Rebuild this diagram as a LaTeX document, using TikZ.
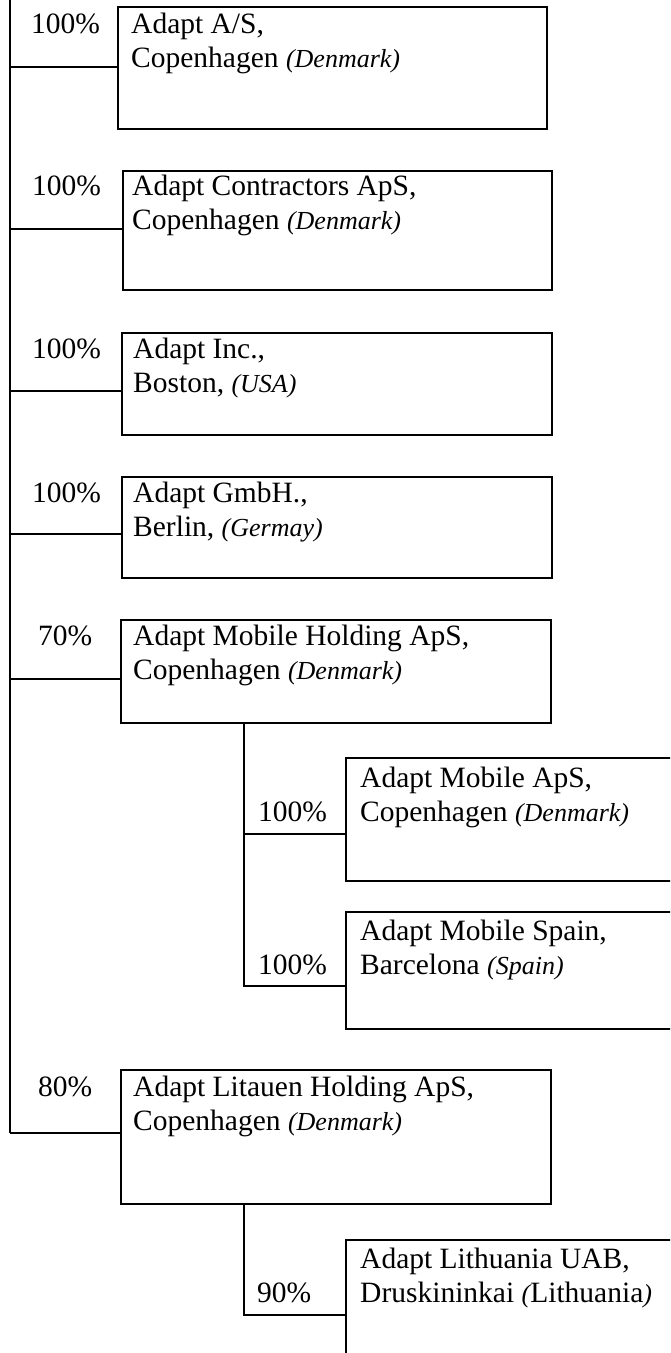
\documentclass[tikz,border=0pt]{standalone}
\usepackage{fontspec}
\setmainfont{Liberation Serif}
\newcommand{\ctry}[1]{{\fontsize{26}{34}\selectfont\itshape #1}}
\newcommand{\twolines}[2]{\begin{tabular}[t]{@{}l@{}}#1\\#2\end{tabular}}
\tikzset{
  box/.style={draw, line width=2pt, rectangle, anchor=north west, inner sep=0pt},
  txt/.style={anchor=base west, inner sep=0pt, font=\fontsize{29.5}{34}\selectfont},
  pct/.style={anchor=base west, inner sep=0pt, font=\fontsize{29.5}{34}\selectfont},
  conn/.style={line width=2pt}
}
\begin{document}
\begin{tikzpicture}[x=1pt,y=-1pt]
\useasboundingbox (0,0) rectangle (670,1353);
\clip (0,0) rectangle (670,1353);
\fill[white] (0,0) rectangle (670,1353);

% main boxes
\node[box, minimum width=429pt, minimum height=122pt] (b1) at (117,6) {};
\node[box, minimum width=429pt, minimum height=119pt] (b2) at (122,170) {};
\node[box, minimum width=430pt, minimum height=102pt] (b3) at (121,332) {};
\node[box, minimum width=430pt, minimum height=101pt] (b4) at (121,476) {};
\node[box, minimum width=430pt, minimum height=103pt] (b5) at (120,619) {};
\node[box, minimum width=360pt, minimum height=123pt] (b6) at (345,757) {};
\node[box, minimum width=360pt, minimum height=117pt] (b7) at (345,911) {};
\node[box, minimum width=430pt, minimum height=134pt] (b8) at (120,1069) {};
\node[box, minimum width=360pt, minimum height=200pt] (b9) at (345,1239) {};

% texts
\node[txt] (t1) at (131,33) {\twolines{Adapt A/S,}{Copenhagen \ctry{(Denmark)}}};
\node[txt] (t2) at (132,195) {\twolines{Adapt Contractors ApS,}{Copenhagen \ctry{(Denmark)}}};
\node[txt] (t3) at (133,358) {\twolines{Adapt Inc.,}{Boston, \ctry{(USA)}}};
\node[txt] (t4) at (133,502) {\twolines{Adapt GmbH.,}{Berlin, \ctry{(Germay)}}};
\node[txt] (t5) at (133,645) {\twolines{Adapt Mobile Holding ApS,}{Copenhagen \ctry{(Denmark)}}};
\node[txt] (t6) at (360,787) {\twolines{Adapt Mobile ApS,}{Copenhagen \ctry{(Denmark)}}};
\node[txt] (t7) at (360,940) {\twolines{Adapt Mobile Spain,}{Barcelona \ctry{(Spain)}}};
\node[txt] (t8) at (133,1096) {\twolines{Adapt Litauen Holding ApS,}{Copenhagen \ctry{(Denmark)}}};
\node[txt] (t9) at (360,1268) {\twolines{Adapt Lithuania UAB,}{Druskininkai \ctry{(}Lithuania\ctry{)}}};

% percentages
\node[pct] (p1) at (31,33) {100\%};
\node[pct] (p2) at (32,195) {100\%};
\node[pct] (p3) at (32,358) {100\%};
\node[pct] (p4) at (32,502) {100\%};
\node[pct] (p5) at (38,645) {70\%};
\node[pct] (p6) at (258,821) {100\%};
\node[pct] (p7) at (258,974) {100\%};
\node[pct] (p8) at (38,1096) {80\%};
\node[pct] (p9) at (257,1302) {90\%};

% main trunk
\coordinate (top) at (10,-5);
\coordinate (j1) at (10,67);
\coordinate (j2) at (10,229);
\coordinate (j3) at (10,391);
\coordinate (j4) at (10,534);
\coordinate (j5) at (10,679);
\coordinate (j8) at (10,1133);
\draw[conn] (top) -- (j8);
\foreach \j/\b in {j1/b1,j2/b2,j3/b3,j4/b4,j5/b5,j8/b8}
  \draw[conn] (\j) -- (\j -| \b.west);

% sub trunk of b5
\coordinate (s5) at (244,722);
\coordinate (k6) at (244,834);
\coordinate (k7) at (244,986);
\draw[conn] (s5) -- (k7) -- (k7 -| b7.west);
\draw[conn] (k6) -- (k6 -| b6.west);

% sub trunk of b8
\coordinate (s8) at (244,1203);
\coordinate (k9) at (244,1315);
\draw[conn] (s8) -- (k9) -- (k9 -| b9.west);
\end{tikzpicture}
\end{document}
